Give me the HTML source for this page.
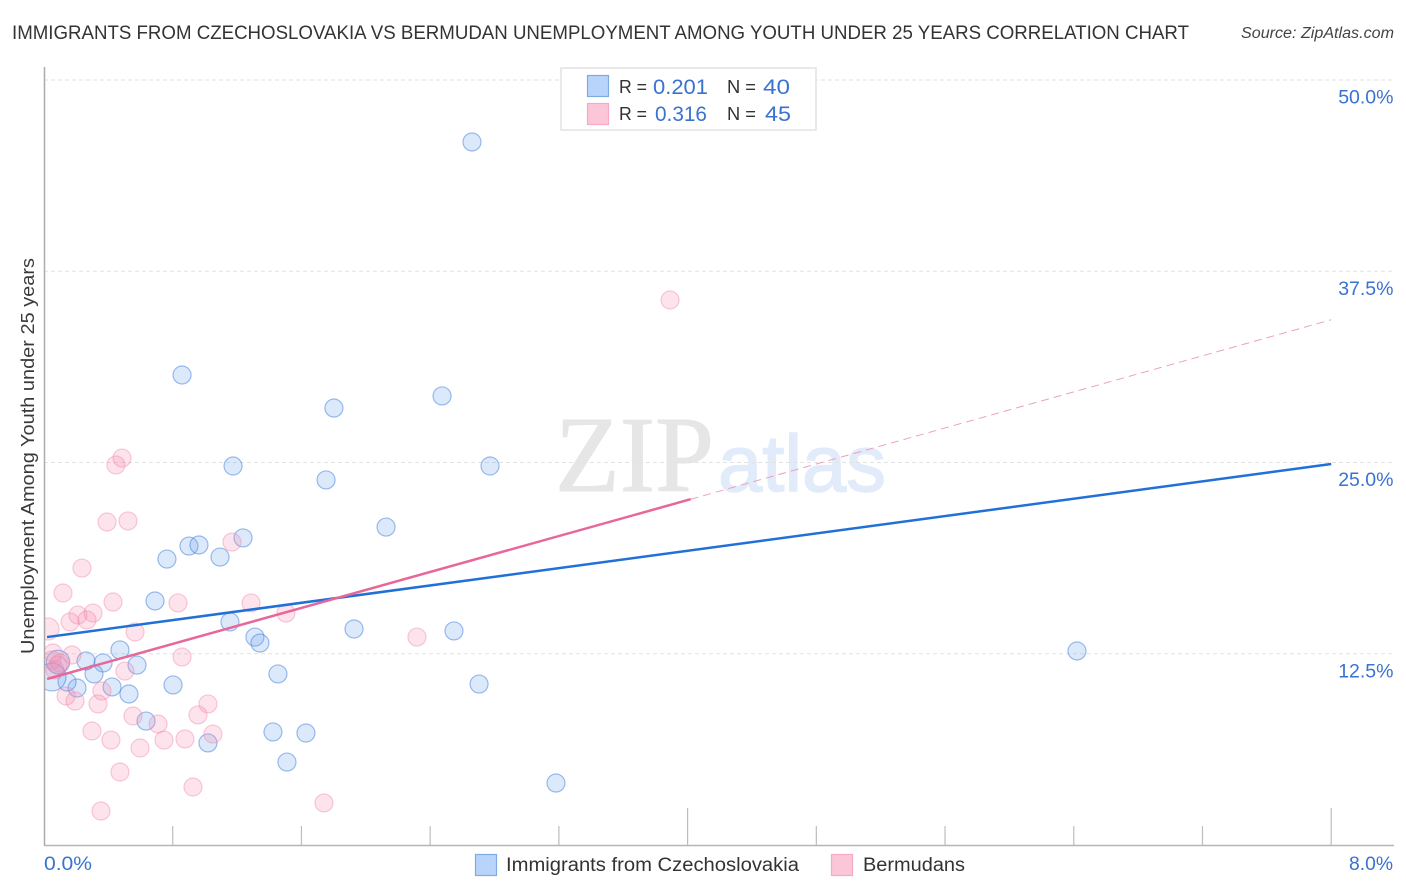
<!DOCTYPE html>
<html lang="en">
<head>
<meta charset="utf-8">
<title>Immigrants from Czechoslovakia vs Bermudan Unemployment Among Youth Under 25 Years Correlation Chart</title>
<style>
html,body{margin:0;padding:0;background:#fff;}
svg{display:block;font-family:"Liberation Sans",sans-serif;}
</style>
</head>
<body>
<svg id="chart" xmlns="http://www.w3.org/2000/svg" width="1406" height="892" viewBox="0 0 1406 892">
  <defs><clipPath id="plot-clip"><rect x="45" y="60" width="1350" height="785"/></clipPath></defs>
  <text x="12" y="39" font-size="19.5" fill="#333" textLength="1177" lengthAdjust="spacingAndGlyphs">IMMIGRANTS FROM CZECHOSLOVAKIA VS BERMUDAN UNEMPLOYMENT AMONG YOUTH UNDER 25 YEARS CORRELATION CHART</text>
  <text x="1241" y="38" font-size="15.5" font-style="italic" fill="#444" textLength="153" lengthAdjust="spacingAndGlyphs">Source: ZipAtlas.com</text>
  <text x="555" y="491" font-family="'Liberation Serif',serif" font-size="108" fill="#e6e6e6" stroke="#e6e6e6" stroke-width="1" textLength="159" lengthAdjust="spacingAndGlyphs">ZIP</text>
  <text x="718" y="491" font-size="80" fill="#e2ebf9" stroke="#e2ebf9" stroke-width="1.5" textLength="168" lengthAdjust="spacingAndGlyphs">atlas</text>
  <g id="grid"></g>
  <g id="axes"></g>
  <g id="points" clip-path="url(#plot-clip)"></g>
  <g id="trends"></g>
  <text transform="translate(34,654) rotate(-90)" font-size="18.5" fill="#3a3a3a" textLength="396" lengthAdjust="spacingAndGlyphs">Unemployment Among Youth under 25 years</text>

  <g>
    <rect x="561" y="68" width="255" height="62" fill="#fff" stroke="#e2e2e2" stroke-width="1.5"/>
    <rect x="587.5" y="75.5" width="21" height="21" fill="#b9d4fa" stroke="#7fabe4" stroke-width="1.2"/>
    <rect x="587.5" y="103.5" width="21" height="21" fill="#fcc6d9" stroke="#f6aac4" stroke-width="1.2"/>
    <text x="619" y="93" font-size="18.5" fill="#333" textLength="28" lengthAdjust="spacingAndGlyphs">R =</text>
    <text x="653" y="94" font-size="21" fill="#3a72d0" textLength="55" lengthAdjust="spacingAndGlyphs">0.201</text>
    <text x="727" y="93" font-size="18.5" fill="#333" textLength="29" lengthAdjust="spacingAndGlyphs">N =</text>
    <text x="763" y="94" font-size="21" fill="#3a72d0" textLength="27" lengthAdjust="spacingAndGlyphs">40</text>
    <text x="619" y="120" font-size="18.5" fill="#333" textLength="28" lengthAdjust="spacingAndGlyphs">R =</text>
    <text x="655" y="121" font-size="21" fill="#3a72d0" textLength="52" lengthAdjust="spacingAndGlyphs">0.316</text>
    <text x="727" y="120" font-size="18.5" fill="#333" textLength="29" lengthAdjust="spacingAndGlyphs">N =</text>
    <text x="765" y="121" font-size="21" fill="#3a72d0" textLength="26" lengthAdjust="spacingAndGlyphs">45</text>
  </g>

  <g>
    <rect x="475.5" y="854.5" width="21" height="21" fill="#b9d4fa" stroke="#7fabe4" stroke-width="1.2"/>
    <text x="506" y="871" font-size="19" fill="#333" textLength="293" lengthAdjust="spacingAndGlyphs">Immigrants from Czechoslovakia</text>
    <rect x="831.5" y="854.5" width="21" height="21" fill="#fcc6d9" stroke="#f6aac4" stroke-width="1.2"/>
    <text x="863" y="871" font-size="19" fill="#333" textLength="102" lengthAdjust="spacingAndGlyphs">Bermudans</text>
  </g>
</svg>
<script>
const yTicks = [12.5, 25, 37.5, 50];
const yTickLabels = ["12.5%", "25.0%", "37.5%", "50.0%"];
const xTicks = [0.8, 1.6, 2.4, 3.2, 4.0, 4.8, 5.6, 6.4, 7.2, 8.0];
const xMajorTicks = [4.0, 8.0];
const xEndLabels = ["0.0%", "8.0%"];

const blueX = [2.660,0.858,1.802,2.474,1.175,2.772,1.753,2.126,1.237,0.901,0.963,0.764,1.094,0.690,1.156,1.927,2.548,1.311,1.342,0.472,6.420,0.578,0.367,0.261,0.311,1.454,2.704,0.802,0.423,0.205,0.528,0.634,1.019,1.423,1.628,1.510,3.182,0.143,0.087,0.050];
const blueY = [45.95,30.72,28.56,29.35,24.77,24.77,23.86,20.78,20.07,19.54,19.61,18.69,18.82,15.95,14.58,14.12,13.99,13.59,13.20,12.75,12.68,11.76,11.90,12.03,11.18,11.18,10.52,10.46,10.33,10.26,9.87,8.10,6.67,7.39,7.32,5.42,4.05,10.65,11.96,10.98];
const blueWeight = [1,1,1,1,1,1,1,1,1,1,1,1,1,1,1,1,1,1,1,1,1,1,1,1,1,1,1,1,1,1,1,1,1,1,1,1,1,1,1.7,2.4];

const pinkX = [3.891,0.485,0.447,0.392,0.522,1.168,0.236,0.118,0.429,0.833,1.287,1.504,0.305,0.211,0.267,0.162,0.025,0.566,2.318,0.174,0.858,0.056,0.087,0.503,0.360,0.137,0.193,0.336,1.019,0.957,0.553,0.709,0.298,1.050,0.416,0.746,0.876,0.597,0.472,0.926,1.740,0.354,0.099,0.068,0.050];
const pinkY = [35.62,25.29,24.84,21.11,21.18,19.80,18.10,16.47,15.88,15.82,15.82,15.16,15.16,15.03,14.71,14.58,14.12,13.92,13.59,12.42,12.29,12.55,11.76,11.37,10.07,9.74,9.41,9.22,9.22,8.50,8.43,7.91,7.45,7.25,6.86,6.86,6.93,6.34,4.77,3.79,2.75,2.22,11.90,11.44,12.09];
const pinkWeight = [1,1,1,1,1,1,1,1,1,1,1,1,1,1,1,1,1.5,1,1,1,1,1,1,1,1,1,1,1,1,1,1,1,1,1,1,1,1,1,1,1,1,1,1,1,1];

const blueTrendX = [0.019, 8.0];
const blueTrendY = [13.59, 24.90];
const pinkTrendX = [0.019, 4.019];
const pinkTrendY = [10.85, 22.60];
const pinkDashX = [4.019, 8.0];
const pinkDashY = [22.60, 34.33];

const NS = "http://www.w3.org/2000/svg";
function xScale(v){ return 44 + v * 160.9; }
function yScale(v){ return 845 - v * 15.3; }
function rScale(w){ return 9 * Math.sqrt(w); }
function make(tag, attrs, parent){
  const el = document.createElementNS(NS, tag);
  for (const k in attrs) el.setAttribute(k, attrs[k]);
  parent.appendChild(el);
  return el;
}

const grid = document.getElementById("grid");
const axes = document.getElementById("axes");
const points = document.getElementById("points");
const trends = document.getElementById("trends");

yTicks.forEach(function(t, i){
  const line = make("line", {x1:44, x2:1393, y1:yScale(t), y2:yScale(t), stroke:"#e2e2e2", "stroke-width":1, "stroke-dasharray":"4 3"}, grid);
  
  
  const label = make("text", {x:1393.5, y:yScale(t)+23.5, "text-anchor":"end", "font-size":19.5, fill:"#3a72d0"}, axes);
  label.textContent = yTickLabels[i];
  
  
});

const yAxis = make("line", {x1:44.5, x2:44.5, y1:67, y2:846, stroke:"#aaa", "stroke-width":1.5}, axes);


const xAxis = make("line", {x1:44, x2:1394, y1:845.5, y2:845.5, stroke:"#b5b5b5", "stroke-width":1.5}, axes);



xTicks.forEach(function(t){
  const top = xMajorTicks.indexOf(t) >= 0 ? 808 : 826;
  const tick = make("line", {x1:xScale(t), x2:xScale(t), y1:top, y2:845, stroke:"#bdbdbd", "stroke-width":1.2}, axes);
  
  
});

const xLabelLeft = make("text", {x:44, y:870, "font-size":19.5, fill:"#3a72d0", textLength:48, lengthAdjust:"spacingAndGlyphs"}, axes);
xLabelLeft.textContent = xEndLabels[0];


const xLabelRight = make("text", {x:1349, y:870, "font-size":19.5, fill:"#3a72d0", textLength:44, lengthAdjust:"spacingAndGlyphs"}, axes);
xLabelRight.textContent = xEndLabels[1];



blueX.forEach(function(v, i){
  const c = make("circle", {cx:xScale(v), cy:yScale(blueY[i]), r:rScale(blueWeight[i]), fill:"rgba(110,165,240,0.24)", stroke:"rgba(60,125,220,0.5)", "stroke-width":1.2}, points);
  
  
});
pinkX.forEach(function(v, i){
  const c = make("circle", {cx:xScale(v), cy:yScale(pinkY[i]), r:rScale(pinkWeight[i]), fill:"rgba(245,140,175,0.24)", stroke:"rgba(240,130,170,0.42)", "stroke-width":1.2}, points);
  
  
});

const pinkDash = make("line", {x1:xScale(pinkDashX[0]), y1:yScale(pinkDashY[0]), x2:xScale(pinkDashX[1]), y2:yScale(pinkDashY[1]), stroke:"#eea0bf", "stroke-width":1, "stroke-dasharray":"8 5"}, trends);


const blueTrend = make("line", {x1:xScale(blueTrendX[0]), y1:yScale(blueTrendY[0]), x2:xScale(blueTrendX[1]), y2:yScale(blueTrendY[1]), stroke:"#2170d8", "stroke-width":2.5}, trends);


const pinkTrend = make("line", {x1:xScale(pinkTrendX[0]), y1:yScale(pinkTrendY[0]), x2:xScale(pinkTrendX[1]), y2:yScale(pinkTrendY[1]), stroke:"#e8679a", "stroke-width":2.5}, trends);


</script>
</body>
</html>
